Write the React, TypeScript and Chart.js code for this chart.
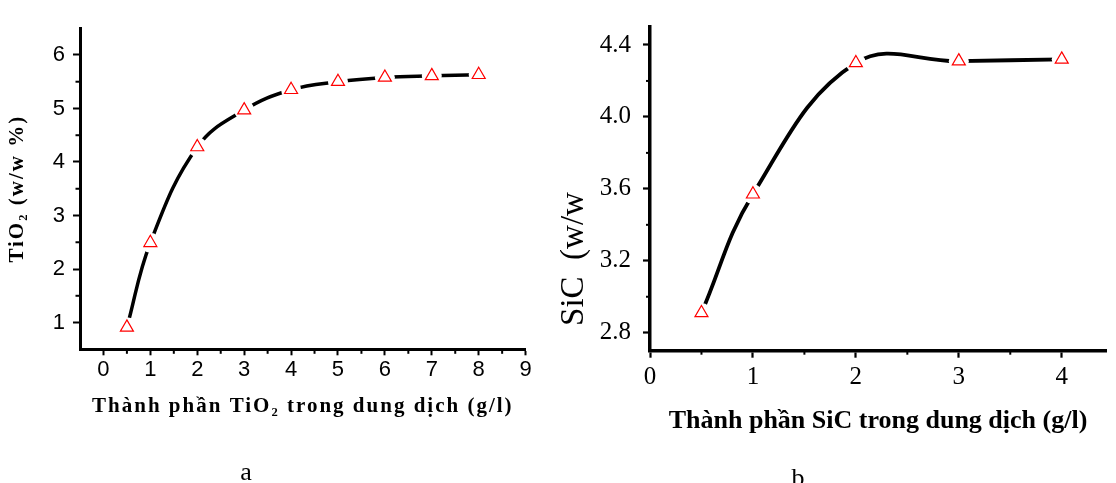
import React, { useEffect, useRef } from "react";
import { Chart, registerables } from "chart.js";

Chart.register(...registerables);

// ---- Panel a: TiO2 ----
const tio2Conc = [0.5, 1, 2, 3, 4, 5, 6, 7, 8];
const tio2Content = [0.91, 2.49, 4.28, 4.97, 5.35, 5.5, 5.58, 5.61, 5.63];
const tio2XTicks = [0, 1, 2, 3, 4, 5, 6, 7, 8, 9];
const tio2YTicks = [1, 2, 3, 4, 5, 6];
const tio2XMinor = [0.5, 1.5, 2.5, 3.5, 4.5, 5.5, 6.5, 7.5, 8.5];
const tio2YMinor = [1.5, 2.5, 3.5, 4.5, 5.5];
const tio2XTitle = "Thành phần TiO₂ trong dung dịch (g/l)";
const tio2YTitle = "TiO₂ (w/w %)";

// ---- Panel b: SiC ----
const sicConc = [0.5, 1, 2, 3, 4];
const sicContent = [2.91, 3.57, 4.3, 4.31, 4.32];
const sicXTicks = [0, 1, 2, 3, 4];
const sicYTicks = [2.8, 3.2, 3.6, 4.0, 4.4];
const sicXMinor = [0.5, 1.5, 2.5, 3.5];
const sicYMinor = [3.0, 3.4, 3.8, 4.2];
const sicXTitle = "Thành phần SiC trong dung dịch (g/l)";
const sicYTitle = "   SiC  (w/w";

const SERIF = "'Liberation Serif', 'Times New Roman', serif";
const SANS = "'Liberation Sans', Arial, sans-serif";

const minorTicksPlugin = {
  id: "minorTicks",
  afterDraw(chart: any, _args: any, opts: any) {
    const { ctx, chartArea } = chart;
    const xs = chart.scales.x;
    const ys = chart.scales.y;
    ctx.save();
    ctx.strokeStyle = "#000";
    ctx.lineWidth = opts.width || 2;
    for (const v of opts.x || []) {
      const px = xs.getPixelForValue(v);
      ctx.beginPath();
      ctx.moveTo(px, chartArea.bottom);
      ctx.lineTo(px, chartArea.bottom + opts.len);
      ctx.stroke();
    }
    for (const v of opts.y || []) {
      const py = ys.getPixelForValue(v);
      ctx.beginPath();
      ctx.moveTo(chartArea.left, py);
      ctx.lineTo(chartArea.left - opts.len, py);
      ctx.stroke();
    }
    ctx.restore();
  },
};

const letterSpacingPlugin = {
  id: "titleSpacing",
  beforeDraw(chart: any, _a: any, opts: any) {
    (chart.ctx as any).letterSpacing = (opts && opts.spacing) || "0px";
  },
  beforeDatasetsDraw(chart: any) {
    (chart.ctx as any).letterSpacing = "0px";
  },
};

function makeDatasets(xs: number[], ys: number[], lineWidth: number) {
  const pts = xs.map((x, i) => ({ x, y: ys[i] }));
  return [
    {
      data: pts,
      borderColor: "#000",
      borderWidth: lineWidth,
      tension: 0.4,
      pointStyle: "circle" as const,
      pointRadius: 10,
      pointBackgroundColor: "#fff",
      pointBorderWidth: 0,
      pointBorderColor: "#fff",
      fill: false,
      order: 1,
    },
    {
      data: pts,
      showLine: false,
      pointStyle: "triangle" as const,
      pointRadius: 7.5,
      pointBackgroundColor: "#fff",
      pointBorderColor: "#ff0000",
      pointBorderWidth: 1.2,
      order: 0,
    },
  ];
}

export default function App() {
  const refA = useRef<HTMLCanvasElement>(null);
  const refB = useRef<HTMLCanvasElement>(null);

  useEffect(() => {
    const chartA = new Chart(refA.current!, {
      type: "line",
      data: { datasets: makeDatasets(tio2Conc, tio2Content, 3.5) as any },
      plugins: [minorTicksPlugin, letterSpacingPlugin],
      options: {
        responsive: false,
        animation: false,
        events: [],
        layout: { padding: { top: 28.2, right: 34.4, left: 0, bottom: 0 } },
        plugins: {
          legend: { display: false },
          tooltip: { enabled: false },
          minorTicks: { x: tio2XMinor, y: tio2YMinor, len: 4.5, width: 2 },
          titleSpacing: { spacing: "2px" },
        } as any,
        scales: {
          x: {
            type: "linear",
            min: -0.5,
            max: 9,
            afterBuildTicks: (s: any) => {
              s.ticks = tio2XTicks.map((v) => ({ value: v }));
            },
            afterFit: (s: any) => {
              s.height = 133.7;
            },
            ticks: {
              font: { family: SANS, size: 22 },
              color: "#000",
              padding: 1,
              autoSkip: false,
              maxRotation: 0,
              z: 1,
              callback: (v: any) => String(v),
            },
            grid: { drawOnChartArea: false, drawTicks: true, tickLength: 6, tickWidth: 2, tickColor: "#000" },
            border: { display: true, color: "#000", width: 3 },
            title: {
              display: true,
              text: tio2XTitle,
              color: "#000",
              font: { family: SERIF, size: 21, weight: "bold", lineHeight: 1.2 },
              padding: { top: 0, bottom: 64 },
            },
          },
          y: {
            type: "linear",
            min: 0.5,
            max: 6.5,
            afterBuildTicks: (s: any) => {
              s.ticks = tio2YTicks.map((v) => ({ value: v }));
            },
            afterFit: (s: any) => {
              s.width = 80;
            },
            ticks: {
              font: { family: SANS, size: 22 },
              color: "#000",
              padding: 8,
              autoSkip: false,
              z: 1,
              callback: (v: any) => String(v),
            },
            grid: { drawOnChartArea: false, drawTicks: true, tickLength: 7, tickWidth: 2, tickColor: "#000" },
            border: { display: true, color: "#000", width: 3 },
            title: {
              display: true,
              text: tio2YTitle,
              color: "#000",
              font: { family: SERIF, size: 21, weight: "bold", lineHeight: 1.2 },
              padding: { top: 5, bottom: 0 },
            },
          },
        },
      },
    });

    const chartB = new Chart(refB.current!, {
      type: "line",
      data: { datasets: makeDatasets(sicConc, sicContent, 3.8) as any },
      plugins: [minorTicksPlugin],
      options: {
        responsive: false,
        animation: false,
        events: [],
        layout: { padding: { top: 10.2, right: 0, left: 0, bottom: 0 } },
        plugins: {
          legend: { display: false },
          tooltip: { enabled: false },
          minorTicks: { x: sicXMinor, y: sicYMinor, len: 4, width: 2 },
        } as any,
        scales: {
          x: {
            type: "linear",
            min: 0,
            max: 4.43,
            afterBuildTicks: (s: any) => {
              s.ticks = sicXTicks.map((v) => ({ value: v }));
            },
            afterFit: (s: any) => {
              s.height = 132.3;
            },
            ticks: {
              font: { family: SERIF, size: 25 },
              color: "#000",
              padding: 5,
              autoSkip: false,
              maxRotation: 0,
              callback: (v: any) => String(v),
            },
            grid: { drawOnChartArea: false, drawTicks: true, tickLength: 7, tickWidth: 2.2, tickColor: "#000" },
            border: { display: true, color: "#000", width: 3.5 },
            title: {
              display: true,
              text: sicXTitle,
              color: "#000",
              font: { family: SERIF, size: 26, weight: "bold", lineHeight: 1.2 },
              padding: { top: 0, bottom: 46.4 },
            },
          },
          y: {
            type: "linear",
            min: 2.7,
            max: 4.5,
            afterBuildTicks: (s: any) => {
              s.ticks = sicYTicks.map((v) => ({ value: v }));
            },
            afterFit: (s: any) => {
              s.width = 90;
            },
            ticks: {
              font: { family: SERIF, size: 25 },
              color: "#000",
              padding: 12,
              autoSkip: false,
              callback: (v: any) => Number(v).toFixed(1),
            },
            grid: { drawOnChartArea: false, drawTicks: true, tickLength: 7, tickWidth: 2.2, tickColor: "#000" },
            border: { display: true, color: "#000", width: 3.5 },
            title: {
              display: true,
              text: sicYTitle,
              align: "start",
              color: "#000",
              font: { family: SERIF, size: 33, weight: "normal", lineHeight: 0.85 },
              padding: { top: 0, bottom: 0 },
            },
          },
        },
      },
    });

    return () => {
      chartA.destroy();
      chartB.destroy();
    };
  }, []);

  const caption: React.CSSProperties = {
    position: "absolute",
    top: 459,
    width: 100,
    textAlign: "center",
    fontFamily: SERIF,
    fontSize: 26,
    lineHeight: "26px",
    color: "#000",
  };

  return (
    <div
      style={{
        position: "absolute",
        left: 0,
        top: 0,
        width: 1116,
        height: 483,
        background: "#fff",
        overflow: "hidden",
      }}
    >
      <div style={{ position: "absolute", left: 0, top: 0, width: 560, height: 483 }}>
        <canvas ref={refA} width={560} height={483} style={{ display: "block" }} />
      </div>
      <div style={{ position: "absolute", left: 560, top: 0, width: 556, height: 483 }}>
        <canvas ref={refB} width={556} height={483} style={{ display: "block" }} />
      </div>
      <div style={{ ...caption, left: 196 }}>a</div>
      <div style={{ ...caption, left: 748, top: 465 }}>b</div>
    </div>
  );
}
